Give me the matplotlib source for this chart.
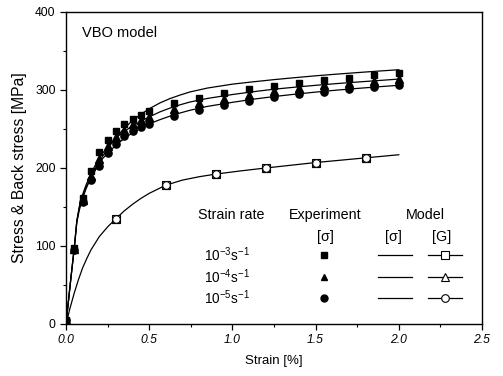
import matplotlib
matplotlib.use("Agg")
import matplotlib.pyplot as plt
from matplotlib.ticker import MultipleLocator

plt.rcParams['font.family'] = ['Liberation Sans', 'DejaVu Sans']
plt.rcParams['mathtext.fontset'] = 'custom'
plt.rcParams['mathtext.rm'] = 'Liberation Sans'
plt.rcParams['mathtext.it'] = 'Liberation Sans:italic'
plt.rcParams['mathtext.default'] = 'regular'

# Experiment data (stress, MPa) vs strain (%)
exp_strain = [0, 0.05, 0.1, 0.15, 0.2, 0.25, 0.3, 0.35, 0.4, 0.45, 0.5,
              0.65, 0.8, 0.95, 1.1, 1.25, 1.4, 1.55, 1.7, 1.85, 2.0]
exp_1e3 = [5, 97, 162, 196, 221, 236, 247, 256, 263, 268, 273,
           283, 290, 296, 301, 305, 309, 313, 316, 319, 322]
exp_1e4 = [5, 96, 159, 190, 212, 228, 240, 249, 256, 261, 265,
           276, 283, 289, 294, 299, 303, 306, 309, 312, 314]
exp_1e5 = [5, 95, 156, 184, 202, 219, 231, 241, 248, 253, 257,
           267, 275, 281, 286, 291, 295, 298, 301, 304, 306]

# Model stress curves
model_strain = [0, 0.03, 0.05, 0.065, 0.08, 0.1, 0.12, 0.144, 0.165, 0.184,
                0.22, 0.264, 0.32, 0.385, 0.45, 0.505, 0.565, 0.625, 0.685,
                0.745, 0.85, 1.0, 1.125, 1.25, 1.375, 1.5, 1.625, 1.75, 1.875, 2.0]
model_1e3 = [0, 60, 98, 130, 146, 161, 173, 185, 194, 202,
             215, 229, 244, 258, 269, 276.5, 283.5, 289, 293.5,
             297.5, 302.5, 307.5, 310.5, 313.3, 315.8, 318.2, 320.3, 322.3, 324.2, 326]
model_1e4 = [0, 60, 98, 132, 150, 166, 178, 190, 199, 207,
             219, 230, 242, 252, 260, 266, 272, 276.8, 281,
             284.6, 289.2, 294.2, 297.8, 301, 303.6, 306, 308.2, 310.2, 312.1, 314]
model_1e5 = [0, 60, 98, 132, 150, 164, 175, 185, 193, 200,
             212, 222, 233, 243, 251, 257, 262, 266.5, 270.5,
             274, 279, 284.2, 288.2, 291.6, 294.6, 297.3, 299.8, 302, 304.1, 306]

# Model back stress G (same for all rates)
g_strain = [0, 0.025, 0.05, 0.075, 0.1, 0.125, 0.15, 0.2, 0.25, 0.3, 0.35,
            0.4, 0.45, 0.5, 0.6, 0.7, 0.8, 0.9, 1.05, 1.2, 1.35, 1.5, 1.65,
            1.8, 1.9, 2.0]
g_stress = [0, 21, 40, 57, 72, 84, 95, 112, 124.5, 135, 145,
            153.5, 161, 167.5, 178, 184.5, 188.8, 192.2, 196.3, 200, 203.5, 207, 210,
            213, 215, 217]
g_marker_strain = [0.3, 0.6, 0.9, 1.2, 1.5, 1.8]
g_marker_stress = [135, 178, 192, 200, 207, 213]

rate_labels = ['$10^{-3}s^{-1}$', '$10^{-4}s^{-1}$', '$10^{-5}s^{-1}$']
exp_markers = ['s', '^', 'o']
exp_sizes = [4.8, 5.5, 5.2]

fig = plt.figure(figsize=(5.03, 3.76), dpi=100)
ax = fig.add_axes([66/503, 52/376, 416/503, 312/376])

lw = 0.9
for ys in (model_1e3, model_1e4, model_1e5):
    ax.plot(model_strain, ys, color='black', lw=lw, zorder=2)
ax.plot(g_strain, g_stress, color='black', lw=lw, zorder=2)
for mk in ('s', '^', 'o'):
    ax.plot(g_marker_strain, g_marker_stress, ls='none', marker=mk, ms=5.5,
            mfc='white', mec='black', mew=0.8, zorder=3)

for ys, mk, sz in zip((exp_1e3, exp_1e4, exp_1e5), exp_markers, exp_sizes):
    ax.plot(exp_strain, ys, ls='none', marker=mk, ms=sz, color='black', zorder=4)

ax.set_xlim(0, 2.5)
ax.set_ylim(0, 400)
ax.xaxis.set_minor_locator(MultipleLocator(0.25))
ax.yaxis.set_major_locator(MultipleLocator(100))
ax.yaxis.set_minor_locator(MultipleLocator(50))
ax.set_xticks([0, 0.5, 1.0, 1.5, 2.0, 2.5])
ax.set_xticklabels(['0.0', '0.5', '1.0', '1.5', '2.0', '2.5'], style='italic')
ax.tick_params(which='major', direction='out', length=4, width=0.9, labelsize=8.7)
ax.tick_params(which='minor', direction='out', length=2, width=0.8)
ax.tick_params(top=False, right=False)
for s in ax.spines.values():
    s.set_linewidth(1.0)

ax.set_xlabel('Strain [%]', fontsize=9.5, labelpad=6)
ax.set_ylabel('Stress & Back stress [MPa]', fontsize=11.3, labelpad=6)

ax.text(0.038, 0.933, 'VBO model', transform=ax.transAxes, fontsize=10.5,
        ha='left', va='center')

# Custom legend table
T = ax.transAxes
fs = 10.3
ax.text(0.397, 0.349, 'Strain rate', transform=T, fontsize=fs, ha='center', va='center')
ax.text(0.623, 0.349, 'Experiment', transform=T, fontsize=fs, ha='center', va='center')
ax.text(0.865, 0.349, 'Model', transform=T, fontsize=fs, ha='center', va='center')
ax.text(0.623, 0.279, '[σ]', transform=T, fontsize=fs, ha='center', va='center')
ax.text(0.786, 0.279, '[σ]', transform=T, fontsize=fs, ha='center', va='center')
ax.text(0.904, 0.279, '[G]', transform=T, fontsize=fs, ha='center', va='center')
rows_y = [0.221, 0.151, 0.083]
for yrow, lab, mk in zip(rows_y, rate_labels, exp_markers):
    ax.text(0.388, yrow, lab, transform=T, fontsize=9.8, ha='center', va='center')
    ax.plot([0.620], [yrow], transform=T, marker=mk, ms=5, color='black', ls='none')
    ax.plot([0.750, 0.832], [yrow, yrow], transform=T, color='black', lw=lw)
    ax.plot([0.870, 0.952], [yrow, yrow], transform=T, color='black', lw=lw)
    ax.plot([0.911], [yrow], transform=T, marker=mk, ms=5.5, mfc='white',
            mec='black', mew=0.8, ls='none')

fig.savefig('out.png', dpi=100)
